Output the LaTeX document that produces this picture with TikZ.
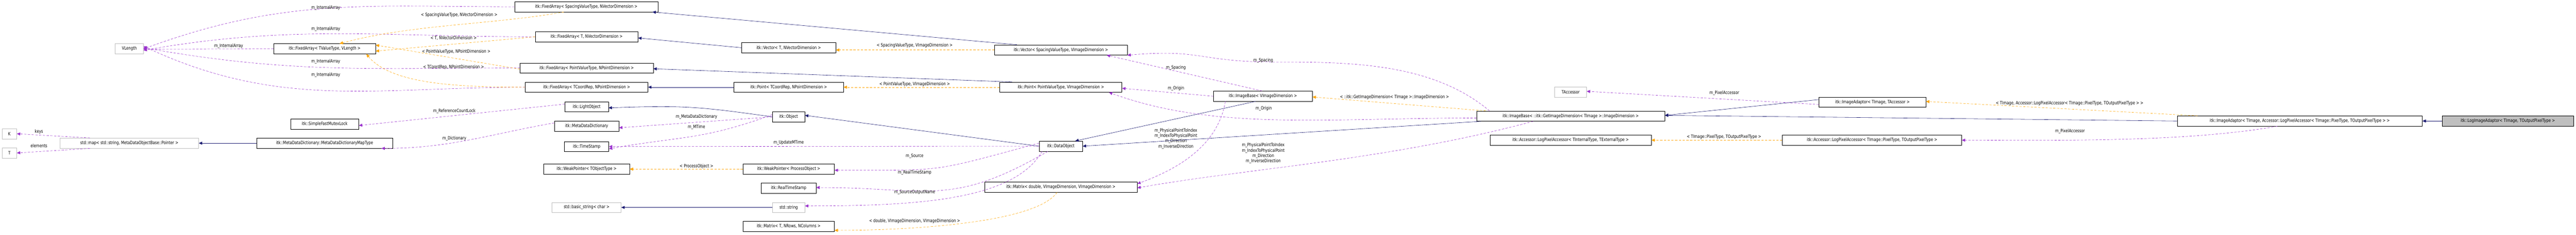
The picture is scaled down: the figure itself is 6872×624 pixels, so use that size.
\documentclass[tikz,border=0pt]{standalone}
\usepackage{fontspec}
\setmainfont{DejaVu Sans}[FakeStretch=0.8]
\usetikzlibrary{arrows.meta}
\definecolor{inh}{HTML}{191970}
\definecolor{use}{HTML}{9A32CD}
\definecolor{tpl}{HTML}{FFA500}
\tikzset{
  cls/.style={draw=black, thick, fill=white, minimum height=27pt, inner sep=3pt, font=\fontsize{12}{14}\selectfont},
  ext/.style={cls, draw=black!25},
  lbl/.style={font=\fontsize{12}{14}\selectfont, inner sep=1pt, align=center},
  inherit/.style={draw=inh, thick, -{Triangle[length=9pt,width=8pt]}},
  usage/.style={draw=use, thick, dashed, dash pattern=on 6pt off 4pt, -{Triangle[length=9pt,width=8pt]}},
  templ/.style={draw=tpl, thick, dashed, dash pattern=on 6pt off 4pt, -{Triangle[length=9pt,width=8pt]}}
}
\begin{document}
\begin{tikzpicture}[x=1pt, y=-1pt]
\useasboundingbox (0,0) rectangle (6872,624);

% left part
\node[ext, minimum width=75pt] (vlen) at (345,130) {VLength};
\node[cls, minimum width=272pt] (faV) at (866,130) {itk::FixedArray< TValueType, VLength >};
\node[cls, minimum width=182pt] (mutex) at (866,330) {itk::SimpleFastMutexLock};
\node[ext, minimum width=39pt] (kk) at (25,356) {K};
\node[ext, minimum width=39pt] (tt) at (25,407) {T};
\node[ext, minimum width=370pt] (smap) at (345,381) {std::map< std::string, MetaDataObjectBase::Pointer >};
\node[cls, minimum width=362pt] (mapT) at (866,381) {itk::MetaDataDictionary::MetaDataDictionaryMapType};

% fixed arrays
\node[cls, minimum width=382pt] (faS) at (1564,18) {itk::FixedArray< SpacingValueType, NVectorDimension >};
\node[cls, minimum width=274pt] (faT) at (1565,98) {itk::FixedArray< T, NVectorDimension >};
\node[cls, minimum width=355pt] (faP) at (1565,181) {itk::FixedArray< PointValueType, NPointDimension >};
\node[cls, minimum width=327pt] (faC) at (1565,232) {itk::FixedArray< TCoordRep, NPointDimension >};
\node[cls, minimum width=116pt] (light) at (1565,284) {itk::LightObject};
\node[cls, minimum width=172pt] (mdd) at (1565,336) {itk::MetaDataDictionary};
\node[cls, minimum width=118pt] (ts) at (1565,390) {itk::TimeStamp};
\node[cls, minimum width=229pt] (wpT) at (1565,450) {itk::WeakPointer< TObjectType >};
\node[ext, minimum width=184pt] (bstr) at (1565,552) {std::basic\_string< char >};

\node[cls, minimum width=251pt] (vecT) at (2104,127) {itk::Vector< T, NVectorDimension >};
\node[cls, minimum width=292pt] (ptC) at (2104,232) {itk::Point< TCoordRep, NPointDimension >};
\node[cls, minimum width=86pt] (obj) at (2104,311) {itk::Object};
\node[cls, minimum width=244pt] (wpP) at (2104,450) {itk::WeakPointer< ProcessObject >};
\node[cls, minimum width=146pt] (rts) at (2104,501) {itk::RealTimeStamp};
\node[ext, minimum width=86pt] (str) at (2104,552) {std::string};
\node[cls, minimum width=244pt] (mT) at (2104,602) {itk::Matrix< T, NRows, NColumns >};

\node[cls, minimum width=354pt] (vecS) at (2830,133) {itk::Vector< SpacingValueType, VImageDimension >};
\node[cls, minimum width=326pt] (ptP) at (2830,232) {itk::Point< PointValueType, VImageDimension >};
\node[cls, minimum width=116pt] (dobj) at (2830,389) {itk::DataObject};
\node[cls, minimum width=407pt] (mD) at (2830,498) {itk::Matrix< double, VImageDimension, VImageDimension >};
\node[cls, minimum width=264pt] (ibV) at (3369,256) {itk::ImageBase< VImageDimension >};

\node[ext, minimum width=85pt] (tacc) at (4190,245) {TAccessor};
\node[cls, minimum width=502pt] (ibG) at (4190,309) {itk::ImageBase< ::itk::GetImageDimension< TImage >::ImageDimension >};
\node[cls, minimum width=430pt] (lpaT) at (4190,373) {itk::Accessor::LogPixelAccessor< TInternalType, TExternalType >};
\node[cls, minimum width=285pt] (iaT) at (4995,272) {itk::ImageAdaptor< TImage, TAccessor >};
\node[cls, minimum width=478pt] (lpaP) at (4994,373) {itk::Accessor::LogPixelAccessor< TImage::PixelType, TOutputPixelType >};
\node[cls, minimum width=654pt] (iaL) at (6135,322) {itk::ImageAdaptor< TImage, Accessor::LogPixelAccessor< TImage::PixelType, TOutputPixelType > >};
\node[cls, fill=black!25, minimum width=351pt] (logA) at (6690,322) {itk::LogImageAdaptor< TImage, TOutputPixelType >};

% m_InternalArray
\draw[usage] (faS.west) .. controls +(180:400) and +(-20:400) .. (vlen.east);
\draw[usage] (faT.west) .. controls +(180:400) and +(-10:400) .. ([yshift=-4pt]vlen.east);
\draw[usage] (faV.west) -- ([yshift=-1pt]vlen.east);
\draw[usage] (faP.west) .. controls +(180:400) and +(10:400) .. ([yshift=3pt]vlen.east);
\draw[usage] (faC.west) .. controls +(180:400) and +(25:400) .. ([yshift=7pt]vlen.east);
\node[lbl] (l1) at (869,21) {m\_InternalArray};
\node[lbl] (l2) at (869,77) {m\_InternalArray};
\node[lbl] (l3) at (610,123) {m\_InternalArray};
\node[lbl] (l4) at (869,164) {m\_InternalArray};
\node[lbl] (l5) at (869,200) {m\_InternalArray};

% template instances of the fixed array
\draw[templ] ([xshift=-60pt]faS.south) .. controls +(170:200) and +(-15:200) .. ([xshift=40pt]faV.north);
\draw[templ] (faT.west) -- ([yshift=-6pt]faV.east);
\draw[templ] ([yshift=-3pt]faP.west) -- ([yshift=10pt]faV.east);
\draw[templ] (faC.west) .. controls +(180:200) and +(50:100) .. ([xshift=-25pt]faV.south east);
\node[lbl] (t1) at (1225,40) {< SpacingValueType, NVectorDimension >};
\node[lbl] (t2) at (1210,101) {< T, NVectorDimension >};
\node[lbl] (t3) at (1217,138) {< PointValueType, NPointDimension >};
\node[lbl] (t4) at (1210,179) {< TCoordRep, NPointDimension >};

% vectors and points
\draw[inherit] ([xshift=-117pt]vecS.north) -- ([xshift=-15pt]faS.south east);
\draw[inherit] (vecT.west) -- ([yshift=-3pt]faT.east);
\draw[inherit] ([xshift=-130pt]ptP.north) -- ([yshift=-2pt]faP.east);
\draw[inherit] (ptC.west) -- (faC.east);
\draw[templ] (vecS.west) -- ([yshift=-6pt]vecT.east);
\draw[templ] (ptP.west) -- (ptC.east);
\node[lbl] (t5) at (2440,121) {< SpacingValueType, VImageDimension >};
\node[lbl] (t6) at (2440,224) {< PointValueType, VImageDimension >};

% objects
\draw[usage] ([yshift=7pt]light.west) -- ([yshift=-4pt]mutex.east);
\draw[usage] ([yshift=9pt]mdd.west) .. controls +(170:180) and +(0:180) .. ([xshift=-30pt]mapT.south east);
\draw[inherit] (mapT.west) -- (smap.east);
\draw[usage] ([xshift=-105pt]smap.north) -- (kk.east);
\draw[usage] ([xshift=-105pt]smap.south) -- (tt.east);
\node[lbl] (l6) at (1212,296) {m\_ReferenceCountLock};
\node[lbl] (l7) at (1212,368) {m\_Dictionary};
\node[lbl] (l8) at (104,351) {keys};
\node[lbl] (l9) at (104,388) {elements};
\draw[inherit] (obj.west) .. controls +(188:200) and +(-2:200) .. ([yshift=-3pt]light.east);
\draw[usage] (obj.west) -- ([yshift=-4pt]mdd.east);
\draw[usage] ([yshift=6pt]obj.west) .. controls +(160:200) and +(-10:200) .. ([yshift=-6pt]ts.east);
\node[lbl] (l10) at (1858,311) {m\_MetaDataDictionary};
\node[lbl] (l11) at (1858,339) {m\_MTime};
\draw[inherit] (dobj.west) -- ([yshift=4pt]obj.east);
\draw[usage] (dobj.west) -- (ts.east);
\draw[usage] ([yshift=8pt]dobj.west) .. controls +(165:300) and +(0:300) .. ([yshift=-3pt]wpP.east);
\draw[usage] ([xshift=-35pt]dobj.south) .. controls +(150:300) and +(0:300) .. ([yshift=2pt]rts.east);
\draw[usage] ([xshift=-50pt]dobj.south) .. controls +(120:150) and +(0:300) .. ([yshift=4pt]str.east);
\node[lbl] (l12) at (2104,380) {m\_UpdateMTime};
\node[lbl] (l13) at (2440,416) {m\_Source};
\node[lbl] (l14) at (2440,459) {m\_RealTimeStamp};
\node[lbl] (l15) at (2440,512) {m\_SourceOutputName};
\draw[templ] (wpP.west) -- (wpT.east);
\node[lbl] (t7) at (1858,442) {< ProcessObject >};
\draw[inherit] (str.west) -- (bstr.east);
\draw[templ] ([xshift=-10pt]mD.south) .. controls +(125:100) and +(0:200) .. ([yshift=3pt]mT.south east);
\node[lbl] (t8) at (2440,588) {< double, VImageDimension, VImageDimension >};

% image base
\draw[inherit] ([xshift=-20pt]ibV.south) -- ([xshift=-20pt]dobj.north east);
\draw[usage] ([xshift=-2pt]ibV.north) -- ([xshift=-55pt]vecS.south east);
\draw[usage] (ibV.west) -- ([yshift=-3pt]ptP.east);
\draw[usage] ([xshift=-100pt]ibV.south) .. controls +(100:100) and +(-20:150) .. ([yshift=-5pt]mD.north east);
\node[lbl] (l16) at (3137,180) {m\_Spacing};
\node[lbl] (l17) at (3137,235) {m\_Origin};
\node[lbl] (l18) at (3137,369) {m\_PhysicalPointToIndex\\m\_IndexToPhysicalPoint\\m\_Direction\\m\_InverseDirection};
\draw[inherit] ([xshift=12pt]ibG.south west) -- (dobj.east);
\draw[templ] ([xshift=25pt]ibG.north west) -- ([yshift=-2pt]ibV.east);
\coordinate (via) at (3400,165);
\draw[usage] ([xshift=35pt]ibG.north west) .. controls +(-140:200) and +(0:200) .. (via) .. controls +(180:200) and +(-5:200) .. (vecS.south east);
\draw[usage] ([yshift=-5pt]ibG.west) .. controls +(180:400) and +(20:300) .. ([xshift=-35pt]ptP.south east);
\draw[usage] ([xshift=-100pt]ibG.south) .. controls +(165:400) and +(-10:300) .. ([yshift=-2pt]mD.east);
\node[lbl] (l19) at (3370,161) {m\_Spacing};
\node[lbl] (t9) at (3720,259) {< ::itk::GetImageDimension< TImage >::ImageDimension >};
\node[lbl] (l20) at (3371,289) {m\_Origin};
\node[lbl] (l21) at (3370,408) {m\_PhysicalPointToIndex\\m\_IndexToPhysicalPoint\\m\_Direction\\m\_InverseDirection};

% adaptors
\draw[inherit] ([yshift=7pt]iaT.west) -- ([yshift=-12pt]ibG.north east);
\draw[usage] ([yshift=-6pt]iaT.west) -- ([yshift=2pt]tacc.east);
\node[lbl] (l22) at (4600,248) {m\_PixelAccessor};
\draw[inherit] (iaL.west) -- ([yshift=2pt]ibG.east);
\draw[templ] ([xshift=55pt]iaL.north west) -- ([yshift=2pt]iaT.east);
\node[lbl] (t10) at (5521,275) {< TImage, Accessor::LogPixelAccessor< TImage::PixelType, TOutputPixelType > >};
\draw[usage] ([xshift=-60pt]iaL.south) .. controls +(170:250) and +(0:250) .. (lpaP.east);
\node[lbl] (l23) at (5522,349) {m\_PixelAccessor};
\draw[templ] (lpaP.west) -- (lpaT.east);
\node[lbl] (t11) at (4599,364) {< TImage::PixelType, TOutputPixelType >};
\draw[inherit] (logA.west) -- (iaL.east);
\end{tikzpicture}
\end{document}
